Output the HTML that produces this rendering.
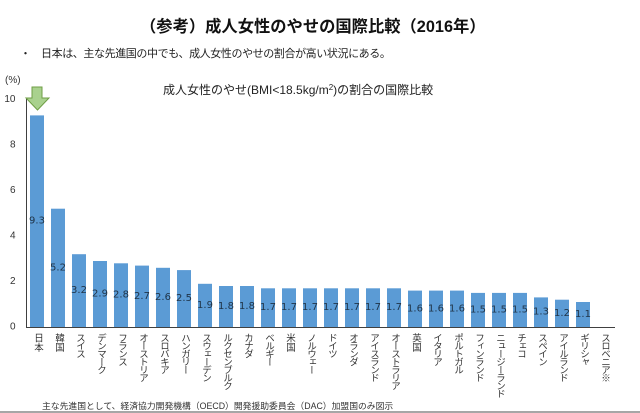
<!DOCTYPE html>
<html><head><meta charset="utf-8">
<style>
html,body{margin:0;padding:0;background:#fff;}
body{width:640px;height:413px;position:relative;overflow:hidden;font-family:"Liberation Sans","Noto Sans CJK JP",sans-serif;color:#222;}
.a{position:absolute;white-space:nowrap;}
.cat{position:absolute;top:333px;width:10px;writing-mode:vertical-rl;font-size:9.5px;line-height:10px;letter-spacing:-1.5px;color:#333;white-space:nowrap;}
.k{letter-spacing:0;}
</style></head><body>
<div class="a" style="left:140px;top:17px;font-size:16.3px;line-height:20px;font-weight:bold;color:#111;">（参考）成人女性のやせの国際比較（2016年）</div>
<div class="a" style="left:20px;top:46px;font-size:11px;line-height:16px;color:#222;">・</div>
<div class="a" style="left:41px;top:46px;font-size:11px;line-height:16px;letter-spacing:-0.4px;color:#222;">日本は、主な先進国の中でも、成人女性のやせの割合が高い状況にある。</div>
<div class="a" style="left:163px;top:80px;font-size:12px;line-height:16px;color:#222;">成人女性のやせ(BMI&lt;18.5kg/m<span style="font-size:8px;vertical-align:4px;">2</span>)の割合の国際比較</div>
<div class="a" style="left:5px;top:75px;font-size:10px;line-height:12px;color:#333;">(%)</div>

<svg width="640" height="413" style="position:absolute;left:0;top:0;" xmlns="http://www.w3.org/2000/svg">
<g font-family="Liberation Sans, sans-serif" font-size="10" fill="#333" text-anchor="end" dominant-baseline="central">
<text x="15.5" y="99.5">10</text>
<text x="15.5" y="145">8</text>
<text x="15.5" y="190.5">6</text>
<text x="15.5" y="236">4</text>
<text x="15.5" y="281.5">2</text>
<text x="15.5" y="327">0</text>
</g>
<g fill="#5b9bd5">
<rect x="30" y="115.4" width="14" height="211.6"/>
<rect x="51" y="208.7" width="14" height="118.3"/>
<rect x="72" y="254.2" width="14" height="72.8"/>
<rect x="93" y="261.0" width="14" height="66.0"/>
<rect x="114" y="263.3" width="14" height="63.7"/>
<rect x="135" y="265.6" width="14" height="61.4"/>
<rect x="156" y="267.8" width="14" height="59.2"/>
<rect x="177" y="270.1" width="14" height="56.9"/>
<rect x="198" y="283.8" width="14" height="43.2"/>
<rect x="219" y="286.0" width="14" height="41.0"/>
<rect x="240" y="286.0" width="14" height="41.0"/>
<rect x="261" y="288.3" width="14" height="38.7"/>
<rect x="282" y="288.3" width="14" height="38.7"/>
<rect x="303" y="288.3" width="14" height="38.7"/>
<rect x="324" y="288.3" width="14" height="38.7"/>
<rect x="345" y="288.3" width="14" height="38.7"/>
<rect x="366" y="288.3" width="14" height="38.7"/>
<rect x="387" y="288.3" width="14" height="38.7"/>
<rect x="408" y="290.6" width="14" height="36.4"/>
<rect x="429" y="290.6" width="14" height="36.4"/>
<rect x="450" y="290.6" width="14" height="36.4"/>
<rect x="471" y="292.9" width="14" height="34.1"/>
<rect x="492" y="292.9" width="14" height="34.1"/>
<rect x="513" y="292.9" width="14" height="34.1"/>
<rect x="534" y="297.4" width="14" height="29.6"/>
<rect x="555" y="299.7" width="14" height="27.3"/>
<rect x="576" y="302.0" width="14" height="25.0"/>
</g>
<g font-family="DejaVu Sans, sans-serif" font-size="10" fill="#1f3347" text-anchor="middle" dominant-baseline="central">
<text x="37" y="221.2">9.3</text>
<text x="58" y="267.9">5.2</text>
<text x="79" y="290.6">3.2</text>
<text x="100" y="294">2.9</text>
<text x="121" y="295.2">2.8</text>
<text x="142" y="296.3">2.7</text>
<text x="163" y="297.4">2.6</text>
<text x="184" y="298.6">2.5</text>
<text x="205" y="305.4">1.9</text>
<text x="226" y="306.5">1.8</text>
<text x="247" y="306.5">1.8</text>
<text x="268" y="307.7">1.7</text>
<text x="289" y="307.7">1.7</text>
<text x="310" y="307.7">1.7</text>
<text x="331" y="307.7">1.7</text>
<text x="352" y="307.7">1.7</text>
<text x="373" y="307.7">1.7</text>
<text x="394" y="307.7">1.7</text>
<text x="415" y="308.8">1.6</text>
<text x="436" y="308.8">1.6</text>
<text x="457" y="308.8">1.6</text>
<text x="478" y="310">1.5</text>
<text x="499" y="310">1.5</text>
<text x="520" y="310">1.5</text>
<text x="541" y="312.2">1.3</text>
<text x="562" y="313.4">1.2</text>
<text x="583" y="314.5">1.1</text>
</g>
<line x1="26.5" y1="99" x2="26.5" y2="327.5" stroke="#404040" stroke-width="1"/>
<line x1="26" y1="327.5" x2="615" y2="327.5" stroke="#404040" stroke-width="1"/>
<polygon points="32,87 42,87 42,98 49,98 37.5,110 26,98 32,98" fill="#a9d18e" stroke="#6f9e45" stroke-width="1"/>
<rect x="0" y="411" width="640" height="2" fill="#a6a6a6"/>
</svg>

<div class="cat k" style="left:32px;">日本</div>
<div class="cat k" style="left:53px;">韓国</div>
<div class="cat" style="left:74px;">スイス</div>
<div class="cat" style="left:95px;">デンマーク</div>
<div class="cat" style="left:116px;">フランス</div>
<div class="cat" style="left:137px;">オーストリア</div>
<div class="cat" style="left:158px;">スロバキア</div>
<div class="cat" style="left:179px;">ハンガリー</div>
<div class="cat" style="left:200px;">スウェーデン</div>
<div class="cat" style="left:221px;">ルクセンブルク</div>
<div class="cat" style="left:242px;">カナダ</div>
<div class="cat" style="left:263px;">ベルギー</div>
<div class="cat k" style="left:284px;">米国</div>
<div class="cat" style="left:305px;">ノルウェー</div>
<div class="cat" style="left:326px;">ドイツ</div>
<div class="cat" style="left:347px;">オランダ</div>
<div class="cat" style="left:368px;">アイスランド</div>
<div class="cat" style="left:389px;">オーストラリア</div>
<div class="cat k" style="left:410px;">英国</div>
<div class="cat" style="left:431px;">イタリア</div>
<div class="cat" style="left:452px;">ポルトガル</div>
<div class="cat" style="left:473px;">フィンランド</div>
<div class="cat" style="left:494px;">ニュージーランド</div>
<div class="cat" style="left:515px;">チェコ</div>
<div class="cat" style="left:536px;">スペイン</div>
<div class="cat" style="left:557px;">アイルランド</div>
<div class="cat" style="left:578px;">ギリシャ</div>
<div class="cat" style="left:599px;">スロベニア※</div>

<div class="a" style="left:42px;top:400px;font-size:8.8px;line-height:12px;color:#333;">主な先進国として、経済協力開発機構（OECD）開発援助委員会（DAC）加盟国のみ図示</div>
</body></html>
